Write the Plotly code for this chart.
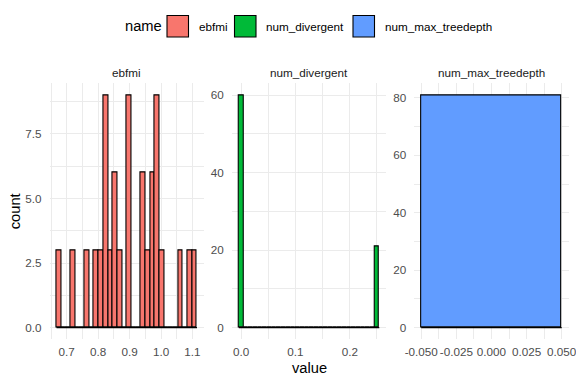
import plotly.graph_objects as go

W, H = 576, 384

# ---------------- data ----------------
panel_names = ["ebfmi", "num_divergent", "num_max_treedepth"]
fill_colors = ["#F8766D", "#00BA38", "#619CFF"]

# ebfmi: 30-bin histogram (first/last bin centres and counts)
ebfmi_first_center = 0.675
ebfmi_last_center = 1.107
ebfmi_counts = [3, 0, 0, 3, 0, 0, 3, 0, 3, 3, 9, 3, 6, 3, 0,
                9, 0, 0, 6, 3, 6, 9, 3, 0, 0, 0, 3, 0, 3, 3]

# num_divergent: 30-bin histogram
div_first_center = 0.0
div_last_center = 0.25
div_counts = [60] + [0] * 28 + [21]

# num_max_treedepth: single bin
tree_centers = [0.0]
tree_width = 0.1
tree_counts = [81]

# tick values / labels
ebfmi_xticks = [0.7, 0.8, 0.9, 1.0, 1.1]
ebfmi_xlabels = ["0.7", "0.8", "0.9", "1.0", "1.1"]
ebfmi_yticks = [0, 2.5, 5.0, 7.5]
ebfmi_ylabels = ["0.0", "2.5", "5.0", "7.5"]
div_xticks = [0.0, 0.1, 0.2]
div_xlabels = ["0.0", "0.1", "0.2"]
div_yticks = [0, 20, 40, 60]
div_ylabels = ["0", "20", "40", "60"]
tree_xticks = [-0.05, -0.025, 0.0, 0.025, 0.05]
tree_xlabels = ["-0.050", "-0.025", "0.000", "0.025", "0.050"]
tree_yticks = [0, 20, 40, 60, 80]
tree_ylabels = ["0", "20", "40", "60", "80"]


def centers_from(first, last, n):
    w = (last - first) / (n - 1)
    return [first + i * w for i in range(n)], w


ebfmi_centers, ebfmi_w = centers_from(ebfmi_first_center, ebfmi_last_center, len(ebfmi_counts))
div_centers, div_w = centers_from(div_first_center, div_last_center, len(div_counts))

hists = [
    (ebfmi_centers, ebfmi_counts, ebfmi_w),
    (div_centers, div_counts, div_w),
    (tree_centers, tree_counts, tree_width),
]
xticks = [(ebfmi_xticks, ebfmi_xlabels), (div_xticks, div_xlabels), (tree_xticks, tree_xlabels)]
yticks = [(ebfmi_yticks, ebfmi_ylabels), (div_yticks, div_ylabels), (tree_yticks, tree_ylabels)]

# ---------------- layout helpers ----------------
FONT = "Liberation Sans, Arial, Helvetica, sans-serif"
GRID = "#EBEBEB"
TICKC = "#4D4D4D"


def px_x(p):
    return p / W


def px_y(p):
    return 1 - p / H


panel_left = [49.5, 231.8, 414.2]
panel_w = 154.5
panel_top, panel_bot = 83.4, 339.3


def minor_vals(ticks):
    step = ticks[1] - ticks[0]
    vals = [ticks[0] - step / 2] + [t + step / 2 for t in ticks]
    return vals


fig = go.Figure()
layout = dict(
    width=W, height=H,
    margin=dict(l=0, r=0, t=0, b=0),
    paper_bgcolor="white", plot_bgcolor="white",
    showlegend=False, bargap=0,
    font=dict(family=FONT, color="black"),
)

annotations = []
shapes = []

for i, ((cx, cy, w), (xt, xl), (yt, yl)) in enumerate(zip(hists, xticks, yticks)):
    sfx = "" if i == 0 else str(i + 1)
    xa, ya = "x" + sfx, "y" + sfx
    fig.add_trace(go.Bar(
        x=cx, y=cy, width=w, xaxis=xa, yaxis=ya,
        marker=dict(color=fill_colors[i], line=dict(color="black", width=1.1)),
        name=panel_names[i],
    ))
    lo = cx[0] - w / 2
    hi = cx[-1] + w / 2
    fig.add_trace(go.Scatter(
        x=[lo, hi], y=[0, 0], mode="lines", xaxis=xa, yaxis=ya,
        line=dict(color="black", width=1.1), hoverinfo="skip",
    ))
    xr = hi - lo
    ymax = max(cy)
    x0 = panel_left[i]
    layout["xaxis" + sfx] = dict(
        domain=[px_x(x0), px_x(x0 + panel_w)],
        anchor=ya, range=[lo - 0.05 * xr, hi + 0.05 * xr],
        tickmode="array", tickvals=xt, ticktext=xl, tickangle=0,
        showgrid=True, gridcolor=GRID, gridwidth=1.1,
        minor=dict(tickmode="array", tickvals=minor_vals(xt), showgrid=True,
                   gridcolor=GRID, gridwidth=0.55),
        zeroline=False, showline=False, ticks="",
        tickfont=dict(size=11.7, color=TICKC, family=FONT),
        ticklabelstandoff=4, ticklabeloverflow="allow", automargin=False,
    )
    layout["yaxis" + sfx] = dict(
        domain=[px_y(panel_bot), px_y(panel_top)],
        anchor=xa, range=[-0.05 * ymax, 1.05 * ymax],
        tickmode="array", tickvals=yt, ticktext=yl, tickangle=0,
        showgrid=True, gridcolor=GRID, gridwidth=1.1,
        minor=dict(tickmode="array", tickvals=minor_vals(yt), showgrid=True,
                   gridcolor=GRID, gridwidth=0.55),
        zeroline=False, showline=False, ticks="",
        tickfont=dict(size=11.7, color=TICKC, family=FONT),
        ticklabelstandoff=7, ticklabeloverflow="allow", automargin=False,
    )
    annotations.append(dict(
        text=panel_names[i], xref="paper", yref="paper",
        x=px_x(x0 + panel_w / 2), y=px_y(72.7), xanchor="center", yanchor="middle",
        showarrow=False, font=dict(size=11.7, color="#1A1A1A", family=FONT),
    ))

# axis titles
annotations.append(dict(text="count", xref="paper", yref="paper", x=px_x(15), y=px_y(211.3),
                        textangle=-90, xanchor="center", yanchor="middle", showarrow=False,
                        font=dict(size=14.7, color="black", family=FONT)))
annotations.append(dict(text="value", xref="paper", yref="paper", x=px_x(309), y=px_y(368),
                        xanchor="center", yanchor="middle", showarrow=False,
                        font=dict(size=14.7, color="black", family=FONT)))

# custom legend (top)
annotations.append(dict(text="name", xref="paper", yref="paper", x=px_x(123), y=px_y(26),
                        xanchor="left", yanchor="middle", showarrow=False,
                        font=dict(size=14.7, color="black", family=FONT)))
key_left = [167, 234.5, 353]
text_left = [197, 264, 382.7]
for i in range(3):
    shapes.append(dict(type="rect", xref="paper", yref="paper",
                       x0=px_x(key_left[i]), x1=px_x(key_left[i] + 21.5),
                       y0=px_y(37), y1=px_y(15.5),
                       fillcolor=fill_colors[i], line=dict(color="black", width=1.1)))
    annotations.append(dict(text=panel_names[i], xref="paper", yref="paper",
                            x=px_x(text_left[i]), y=px_y(26), xanchor="left", yanchor="middle",
                            showarrow=False, font=dict(size=11.7, color="black", family=FONT)))

layout["annotations"] = annotations
layout["shapes"] = shapes
fig.update_layout(**layout)
fig.write_html(
    "out.html",
    config={"displayModeBar": False},
    post_script="document.body.style.margin='0';document.body.style.padding='0';",
)
